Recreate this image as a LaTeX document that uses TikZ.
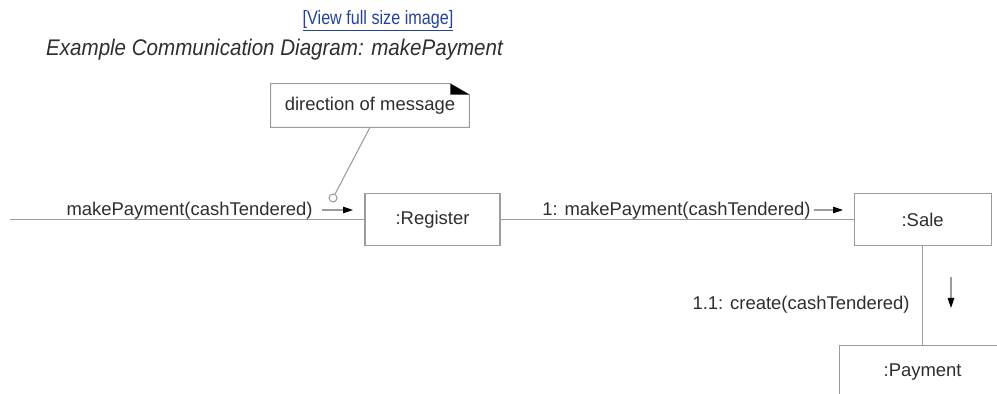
\documentclass[tikz,border=0pt]{standalone}
\usepackage{fontspec}
\setmainfont{Liberation Sans}
\usepackage{xcolor}
\usepackage{graphicx}
\usetikzlibrary{arrows.meta,positioning}
\definecolor{linkblue}{HTML}{2541A0}
\definecolor{linegray}{HTML}{9C9C9C}
\definecolor{textgray}{HTML}{2E2E2E}

\begin{document}
\begin{tikzpicture}[
    x=0.02cm, y=-0.02cm,
    node distance=1.2cm,
    obj/.style={draw=linegray, line width=0.7pt, align=center, minimum width=2.7cm,
                minimum height=1.04cm, inner sep=0pt, text=textgray,
                font=\fontsize{10.5}{12}\selectfont},
    lbl/.style={inner sep=0pt, text=textgray, font=\fontsize{10.5}{12}\selectfont},
    link/.style={draw=linegray, line width=0.6pt},
    msg/.style={draw=linegray, line width=0.6pt,
                -{Triangle[length=2mm, width=1.3mm, color=black]}}
]
  \useasboundingbox (0,0) rectangle (997,394);
  \clip (0,0) rectangle (997,394);

  % heading
  \node[text=linkblue, font=\fontsize{9.2}{11}\selectfont] (view) at (378,21)
       {\underline{\scalebox{1}[1.2]{[View full size image]}}};
  \node[anchor=west, text=textgray, font=\fontsize{11.7}{14}\selectfont\itshape] (title)
       at (40,50) {\scalebox{1}[1.1]{Example Communication Diagram: makePayment}};

  % objects
  \node[obj] (reg) at (432.5,219.5) {:Register};
  \node[obj, minimum width=2.74cm, right=7.06cm of reg] (sale) {:Sale};
  \node[obj, minimum width=3.32cm, below=1.98cm of sale] (pay) {:Payment};

  % note
  \node[lbl, minimum width=3.96cm, minimum height=0.86cm] (note) at (370,105.5)
       {direction of message};
  \draw[link] (note.north west) -- ([xshift=-0.38cm]note.north east)
              -- ([yshift=-0.22cm]note.north east) -- (note.south east)
              -- (note.south west) -- cycle;
  \fill[black] ([xshift=-0.38cm]note.north east) -- ([xshift=-0.38cm,yshift=-0.22cm]note.north east)
              -- ([yshift=-0.22cm]note.north east) -- cycle;
  \node[circle, draw=linegray, fill=white, line width=0.6pt, minimum size=0.16cm,
        inner sep=0pt] (dot) at (333,198) {};
  \draw[link] (note.south) -- (dot);

  % links
  \coordinate (start) at (10,219.5);
  \draw[link] (start) -- (reg);
  \draw[link] (reg) -- (sale);
  \draw[link] (sale) -- (pay);

  % messages
  \node[lbl, anchor=base east] (m0) at (313,216) {makePayment(cashTendered)};
  \coordinate (a0) at (322,210);
  \coordinate (b0) at (353,210);
  \draw[msg] (a0) -- (b0);

  \node[lbl, anchor=base east] (m1) at (811,216) {1: makePayment(cashTendered)};
  \coordinate (a1) at (814,210);
  \coordinate (b1) at (843,210);
  \draw[msg] (a1) -- (b1);

  \node[lbl, anchor=base east] (m2) at (910,310) {1.1: create(cashTendered)};
  \coordinate (a2) at (951,277);
  \coordinate (b2) at (951,308);
  \draw[msg] (a2) -- (b2);
\end{tikzpicture}
\end{document}
